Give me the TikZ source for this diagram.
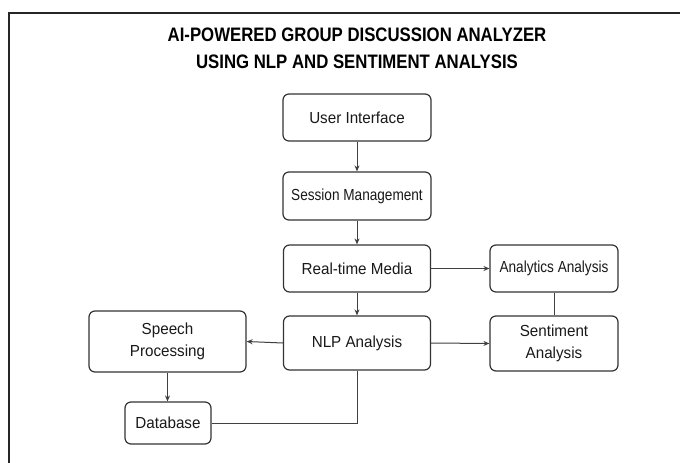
\documentclass[tikz,border=0pt]{standalone}
\usepackage{fontspec}
\usetikzlibrary{arrows.meta}
\newfontfamily\boxfont[FakeStretch=0.95]{Liberation Sans}
\newfontfamily\narrowfont[FakeStretch=0.85]{Liberation Sans}
\newfontfamily\titlefont[FakeStretch=0.86]{Liberation Sans}
\begin{document}
\begin{tikzpicture}[x=1pt,y=-1pt,
  box/.style={draw=black!80, line width=1.2pt, rounded corners=6pt, inner sep=0pt,
    align=center, text=black!90, font=\boxfont\fontsize{16}{22}\selectfont},
  title/.style={inner sep=0pt, text=black, font=\titlefont\bfseries\fontsize{19.5}{27}\selectfont},
  link/.style={draw=black!75, line width=1pt},
  arr/.style={link, -{Stealth[length=6pt,width=5pt]}}]
  \useasboundingbox (0,0) rectangle (680,463);
  \fill[white] (0,0) rectangle (680,463);
  \draw[line width=2.5pt, black!85] (9,13) rectangle (700,480);

\node[title] (title1) at (357,35){AI-POWERED GROUP DISCUSSION ANALYZER};
\node[title] (title2) at (357,62){USING NLP AND SENTIMENT ANALYSIS};


\node[box, minimum width=148pt, minimum height=47pt] (ui) at (357,117.5){User Interface};

\node[box, minimum width=148pt, minimum height=48pt, font=\narrowfont\fontsize{16}{22}\selectfont] (session) at (357,196){Session Management};

\node[box, minimum width=147pt, minimum height=47pt] (media) at (357,268.5){Real-time Media};

\node[box, minimum width=147pt, minimum height=54pt] (nlp) at (357,343){NLP Analysis};


\node[box, minimum width=157pt, minimum height=61pt] (speech) at (167.5,341.5){Speech\\Processing};

\node[box, minimum width=86pt, minimum height=42pt] (db) at (168,423){Database};


\node[box, minimum width=128pt, minimum height=47pt, font=\narrowfont\fontsize{16}{22}\selectfont] (analytics) at (554,268.5){Analytics Analysis};

\node[box, minimum width=128pt, minimum height=55pt] (senti) at (554,343.5){Sentiment\\Analysis};


  \draw[arr] (ui.south) -- (session.north);
  \draw[arr] (session.south) -- (media.north);
  \draw[arr] (media.south) -- (nlp.north);
  \draw[arr] (media.east) -- (analytics.west);
  \draw[arr] (nlp.east) -- (senti.west);
  \draw[arr] (nlp.west) -- (speech.east);
  \draw[arr] (speech.south) -- (speech.south |- db.north);
  \draw[link] (nlp.south) |- (db.east);
  \draw[link] (analytics.south) -- (senti.north);
\end{tikzpicture}
\end{document}
